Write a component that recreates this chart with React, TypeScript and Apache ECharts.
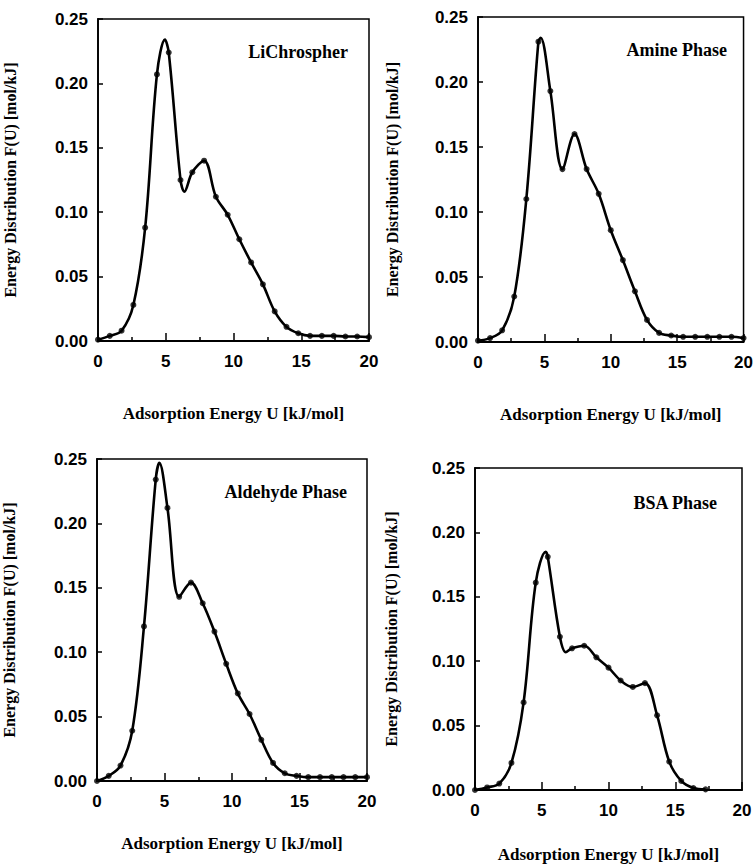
import React, { useEffect, useRef } from "react";
import * as echarts from "echarts";

// ---- Data ----
// LiChrospher
const lichU = [0, 0.87, 1.74, 2.61, 3.48, 4.35, 5.22, 6.09, 6.96, 7.83, 8.7, 9.57, 10.43, 11.3, 12.17, 13.04, 13.91, 14.78, 15.65, 16.52, 17.39, 18.26, 19.13, 20.0];
const lichF = [0.001, 0.004, 0.008, 0.028, 0.088, 0.207, 0.224, 0.125, 0.131, 0.14, 0.112, 0.098, 0.079, 0.061, 0.044, 0.023, 0.011, 0.006, 0.004, 0.004, 0.004, 0.0035, 0.0035, 0.003];
const lichCurveExtrema = [[4.94, 0.234], [6.37, 0.116]];

// Amine Phase
const amineU = [0, 0.91, 1.82, 2.73, 3.64, 4.55, 5.45, 6.36, 7.27, 8.18, 9.09, 10.0, 10.91, 11.82, 12.73, 13.64, 14.55, 15.45, 16.36, 17.27, 18.18, 19.09, 20.0];
const amineF = [0.001, 0.003, 0.009, 0.035, 0.11, 0.231, 0.193, 0.133, 0.16, 0.133, 0.114, 0.086, 0.063, 0.039, 0.017, 0.007, 0.005, 0.004, 0.004, 0.004, 0.004, 0.004, 0.003];
const amineCurveExtrema = [[4.72, 0.234]];

// Aldehyde Phase
const aldU = [0, 0.87, 1.74, 2.61, 3.48, 4.35, 5.22, 6.09, 6.96, 7.83, 8.7, 9.57, 10.43, 11.3, 12.17, 13.04, 13.91, 14.78, 15.65, 16.52, 17.39, 18.26, 19.13, 20.0];
const aldF = [0.0, 0.004, 0.012, 0.039, 0.12, 0.234, 0.212, 0.143, 0.154, 0.138, 0.116, 0.091, 0.068, 0.052, 0.032, 0.014, 0.006, 0.004, 0.003, 0.003, 0.003, 0.003, 0.003, 0.003];
const aldCurveExtrema = [[4.62, 0.247]];

// BSA Phase
const bsaU = [0, 0.91, 1.82, 2.73, 3.64, 4.55, 5.45, 6.36, 7.27, 8.18, 9.09, 10.0, 10.91, 11.82, 12.73, 13.64, 14.55, 15.45, 16.36, 17.27];
const bsaF = [0.0, 0.002, 0.005, 0.021, 0.068, 0.161, 0.181, 0.119, 0.11, 0.112, 0.103, 0.095, 0.085, 0.08, 0.083, 0.058, 0.022, 0.007, 0.0015, 0.0005];
const bsaCurveExtrema = [[5.3, 0.185], [6.8, 0.107]];

const panelTitles = ["LiChrospher", "Amine Phase", "Aldehyde Phase", "BSA Phase"];
const xTicks = [0, 5, 10, 15, 20];
const yTicks = [0, 0.05, 0.1, 0.15, 0.2, 0.25];
const xTitle = "Adsorption Energy U [kJ/mol]";
const yTitle = "Energy Distribution F(U) [mol/kJ]";

// ---- Layout (pixels) ----
const grids = [
  { left: 98, top: 19, width: 271, height: 322, xGap: 64, yGap: 80, tx: 348, ty: 52 },
  { left: 478, top: 17, width: 267, height: 325, xGap: 64, yGap: 78, tx: 727, ty: 50 },
  { left: 97, top: 459, width: 270, height: 322, xGap: 54, yGap: 80, tx: 347, ty: 492 },
  { left: 475, top: 468, width: 267, height: 322, xGap: 56, yGap: 76, tx: 717, ty: 503 },
];

const panels = [
  { u: lichU, f: lichF, ext: lichCurveExtrema },
  { u: amineU, f: amineF, ext: amineCurveExtrema },
  { u: aldU, f: aldF, ext: aldCurveExtrema },
  { u: bsaU, f: bsaF, ext: bsaCurveExtrema },
];

const SANS = "'Liberation Sans', Arial, sans-serif";
const SERIF = "'Liberation Serif', 'Times New Roman', serif";

export default function App() {
  const ref = useRef<HTMLDivElement>(null);
  useEffect(() => {
    if (!ref.current) return;
    const chart = echarts.init(ref.current, undefined, { renderer: "svg" });

    const gridOpt = grids.map((g) => ({
      left: g.left,
      top: g.top,
      width: g.width,
      height: g.height,
      show: true,
      borderColor: "#000",
      borderWidth: 1.5,
      backgroundColor: "transparent",
      containLabel: false,
    }));

    const xAxes = grids.map((g, i) => ({
      type: "value",
      gridIndex: i,
      min: xTicks[0],
      max: xTicks[xTicks.length - 1],
      interval: 5,
      name: xTitle,
      nameLocation: "middle",
      nameGap: g.xGap,
      nameTextStyle: { fontFamily: SERIF, fontWeight: "bold", fontSize: 17, color: "#000" },
      axisLine: { show: true, onZero: false, lineStyle: { color: "#000", width: 1.8 } },
      axisTick: { show: true, inside: true, length: 8, lineStyle: { color: "#000", width: 1.5 } },
      minorTick: { show: true, splitNumber: 2, length: 4, lineStyle: { color: "#000", width: 1.5 } },
      splitLine: { show: false },
      axisLabel: { fontFamily: SANS, fontWeight: "bold", fontSize: 17, color: "#000", margin: 12 },
    }));

    const yAxes = grids.map((g, i) => ({
      type: "value",
      gridIndex: i,
      min: yTicks[0],
      max: yTicks[yTicks.length - 1],
      interval: 0.05,
      name: yTitle,
      nameLocation: "middle",
      nameGap: g.yGap,
      nameTextStyle: { fontFamily: SERIF, fontWeight: "bold", fontSize: 16, color: "#000" },
      axisLine: { show: true, onZero: false, lineStyle: { color: "#000", width: 1.8 } },
      axisTick: { show: true, inside: true, length: 5, lineStyle: { color: "#000", width: 1.5 } },
      splitLine: { show: false },
      axisLabel: {
        fontFamily: SANS,
        fontWeight: "bold",
        fontSize: 17,
        color: "#000",
        margin: 10,
        formatter: (v: number) => v.toFixed(2),
      },
    }));

    const series: any[] = [];
    panels.forEach((p, i) => {
      const dots = p.u.map((u, k) => [u, p.f[k]]);
      const curve = dots.concat(p.ext).sort((a, b) => a[0] - b[0]);
      series.push({
        type: "line",
        xAxisIndex: i,
        yAxisIndex: i,
        data: curve,
        smooth: 0.35,
        showSymbol: false,
        lineStyle: { color: "#000", width: 2.6 },
        z: 2,
      });
      series.push({
        type: "scatter",
        xAxisIndex: i,
        yAxisIndex: i,
        data: dots,
        symbol: "circle",
        symbolSize: 6,
        itemStyle: { color: "#000" },
        z: 3,
      });
    });

    const graphic = grids.map((g, i) => ({
      type: "text",
      x: g.tx,
      y: g.ty,
      style: {
        text: panelTitles[i],
        font: `bold 18px ${SERIF}`,
        fill: "#000",
        textAlign: "right",
        textVerticalAlign: "middle",
      },
    }));

    chart.setOption({
      animation: false,
      backgroundColor: "#fff",
      grid: gridOpt,
      xAxis: xAxes,
      yAxis: yAxes,
      series,
      graphic,
    });
    return () => chart.dispose();
  }, []);

  return (
    <div
      ref={ref}
      style={{ position: "absolute", left: 0, top: 0, width: 756, height: 865, background: "#fff" }}
    />
  );
}
